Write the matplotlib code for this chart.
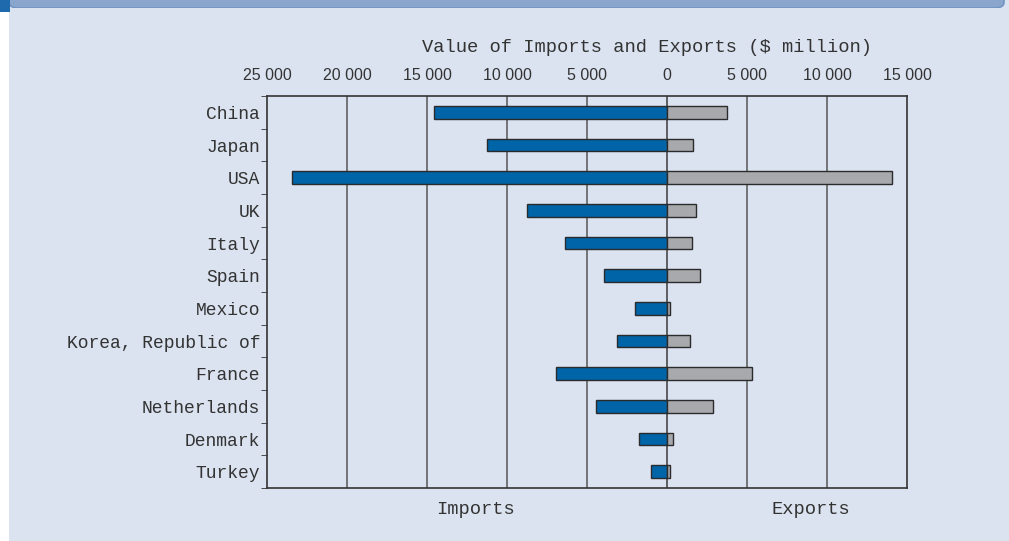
import matplotlib.pyplot as plt
from matplotlib.patches import Rectangle, FancyBboxPatch
import numpy as np

countries = ['China', 'Japan', 'USA', 'UK', 'Italy', 'Spain', 'Mexico',
             'Korea, Republic of', 'France', 'Netherlands', 'Denmark', 'Turkey']
imports = [14560, 11270, 23420, 8770, 6360, 3940, 2020, 3150, 6960, 4460, 1730, 1020]
exports = [3730, 1600, 14040, 1790, 1540, 2040, 210, 1420, 5310, 2850, 400, 200]
tick_vals = [-25000, -20000, -15000, -10000, -5000, 0, 5000, 10000, 15000]

bg = '#dbe3f0'
txt = '#333333'
mono = ['Liberation Mono', 'DejaVu Sans Mono']

fig = plt.figure(figsize=(10.09, 5.41), dpi=100, facecolor=bg)

# page decoration: white left strip, header band, blue corner square
deco = [
    Rectangle((0, 0), 9 / 1009, 1, facecolor='white', edgecolor='none'),
    FancyBboxPatch((9 / 1009, 533 / 541), 995 / 1009, 20 / 541,
                   boxstyle='round,pad=0,rounding_size=0.01',
                   facecolor='#8aa6cd', edgecolor='#7394c3', lw=1.2),
    Rectangle((9 / 1009, 0), 996 / 1009, 533 / 541, facecolor=bg, edgecolor='none'),
    Rectangle((0, 529 / 541), 10 / 1009, 12 / 541, facecolor='#1f69ad', edgecolor='none'),
]
for p in deco:
    p.set_transform(fig.transFigure)
    p.set_zorder(-5)
    fig.patches.append(p)

ax = fig.add_axes([267 / 1009, 53 / 541, 640 / 1009, 392 / 541])
ax.set_facecolor(bg)

y = np.arange(len(countries))
h = 0.38
ax.barh(y, [-v for v in imports], height=h, color='#0064a8', edgecolor='#2b2b2b',
        linewidth=1, zorder=3)
ax.barh(y, exports, height=h, color='#a8a9ad', edgecolor='#2b2b2b',
        linewidth=1, zorder=3)

ax.set_xlim(-25000, 15000)
ax.set_ylim(len(countries) - 0.5, -0.5)

for v in tick_vals[1:-1]:
    ax.axvline(v, color='#3a3a3a' if v == 0 else '#555555', lw=1.1, zorder=2)

ax.xaxis.tick_top()
ax.set_xticks(tick_vals)
ax.set_xticklabels([f'{abs(v):,}'.replace(',', ' ') for v in tick_vals],
                   family='Liberation Sans', fontsize=11.5, color=txt)
ax.tick_params(axis='x', length=0, pad=9)

ax.set_yticks(y)
ax.set_yticklabels(countries, family=mono, fontsize=13, color=txt)
ax.tick_params(axis='y', which='major', length=0, pad=5)
ax.set_yticks(np.arange(len(countries) + 1) - 0.5, minor=True)
ax.tick_params(axis='y', which='minor', length=4, direction='out', color='#333333')

for s in ax.spines.values():
    s.set_color('#333333')
    s.set_linewidth(1.2)

fig.text(647 / 1009, 1 - 47 / 541, 'Value of Imports and Exports ($ million)',
         family=mono, fontsize=13.5, color=txt, ha='center', va='center')
ax.text(-12000, -0.055, 'Imports', transform=ax.get_xaxis_transform(),
        family=mono, fontsize=13.5, color=txt, ha='center', va='center')
ax.text(9000, -0.055, 'Exports', transform=ax.get_xaxis_transform(),
        family=mono, fontsize=13.5, color=txt, ha='center', va='center')

fig.savefig('out.png', dpi=100, facecolor=fig.get_facecolor())
